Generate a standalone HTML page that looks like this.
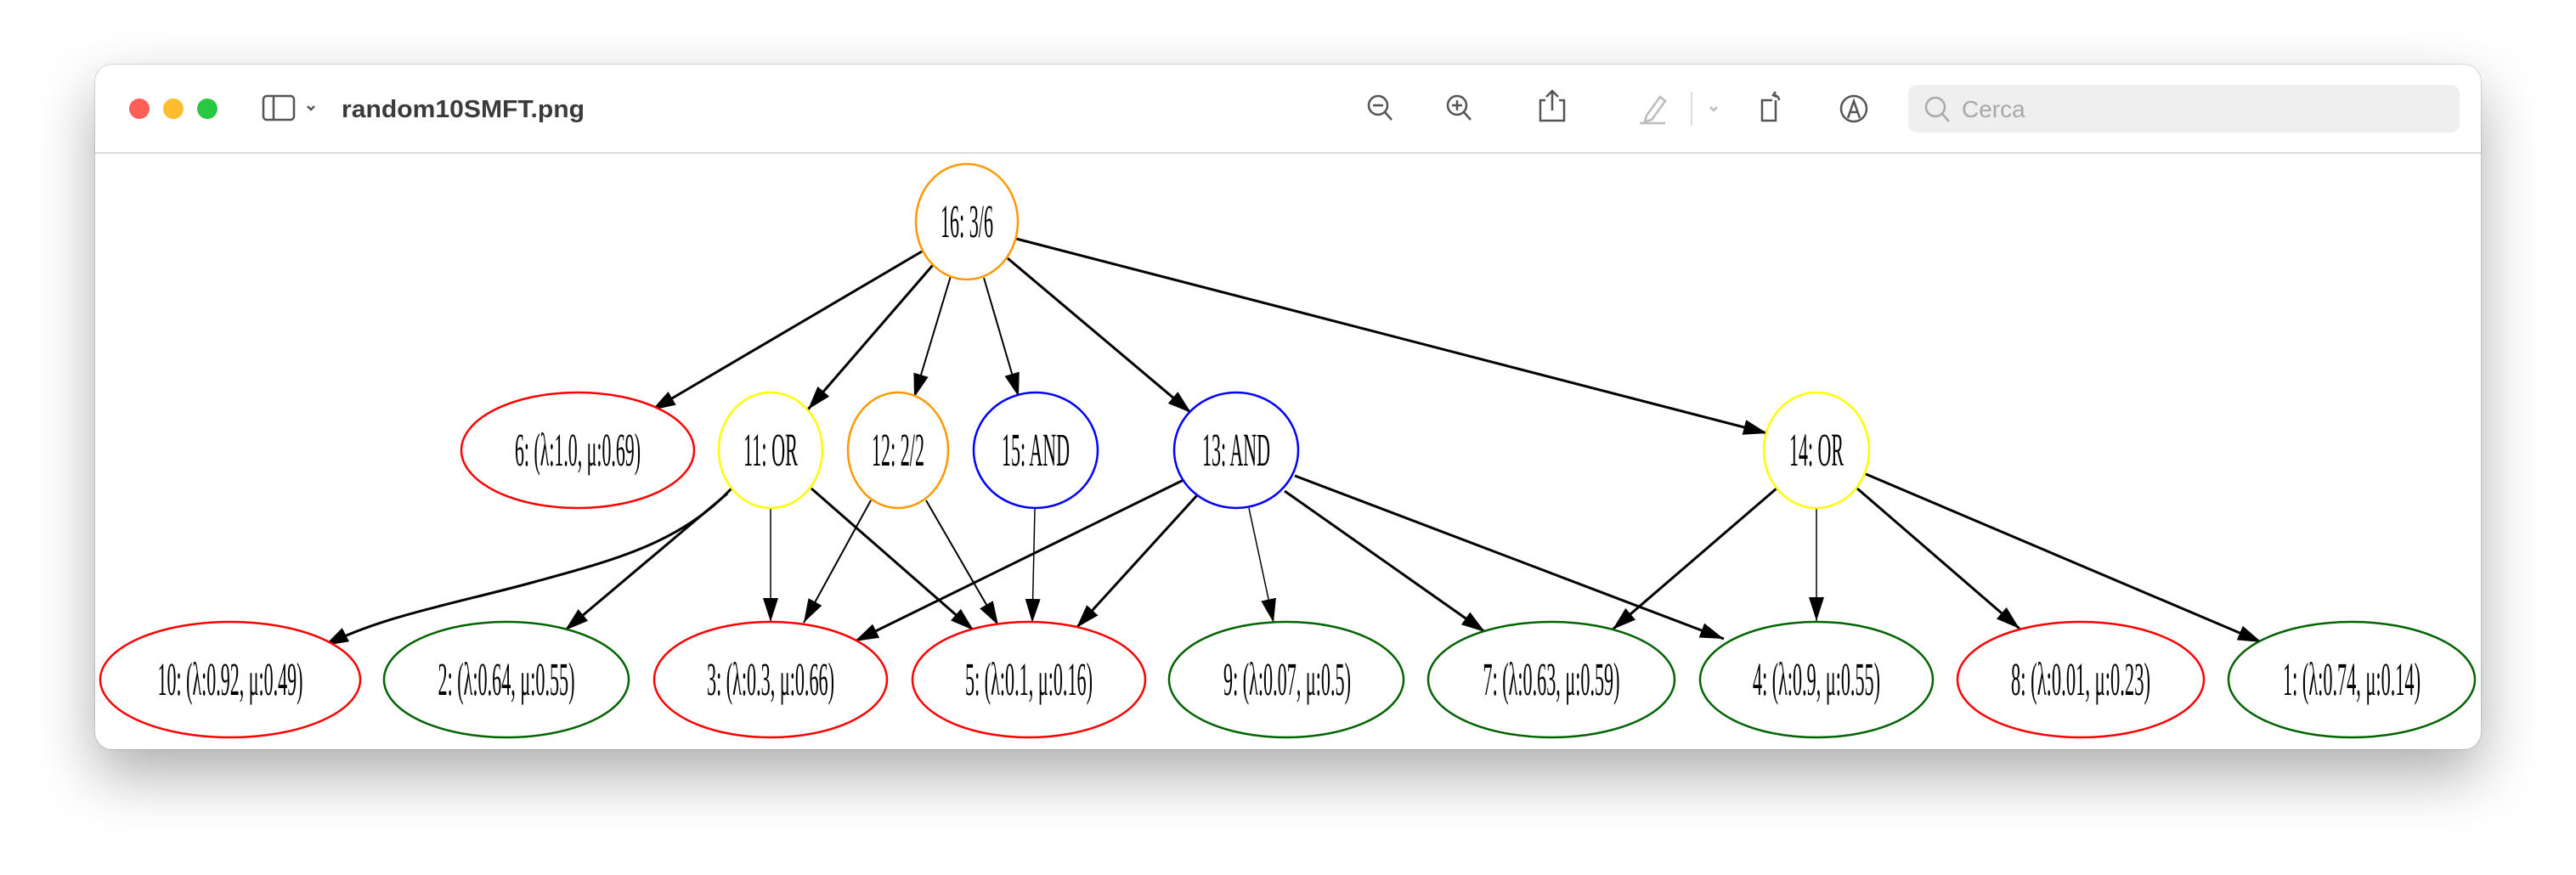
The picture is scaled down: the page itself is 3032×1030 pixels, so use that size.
<!DOCTYPE html>
<html><head><meta charset="utf-8"><style>
html,body{margin:0;padding:0;background:#fff;width:3032px;height:1030px;overflow:hidden}
.win{position:absolute;left:112px;top:76px;width:2808px;height:806px;border-radius:20px;background:#fff;box-shadow:0 30px 70px rgba(0,0,0,0.32),0 0 0 1px rgba(0,0,0,0.12)}
svg{position:absolute;left:0;top:0}
</style></head><body>
<div class="win"></div>
<svg width="3032" height="1030" viewBox="0 0 3032 1030" xmlns="http://www.w3.org/2000/svg">
<defs>
<marker id="a" markerUnits="userSpaceOnUse" markerWidth="34" markerHeight="22" refX="28" refY="9" orient="auto"><path d="M0,0 L28,9 L0,18 z" fill="#000"/></marker>
</defs>
<line x1="112" y1="180" x2="2920" y2="180" stroke="#dcdcdc" stroke-width="2"/>
<circle cx="164" cy="128" r="12" fill="#ff5f57"/>
<circle cx="204" cy="128" r="12" fill="#febc2e"/>
<circle cx="244" cy="128" r="12" fill="#28c840"/>
<g fill="none" stroke="#555" stroke-width="2.5">
<rect x="310" y="113" width="36" height="28" rx="4"/><line x1="322" y1="113" x2="322" y2="141"/>
<path d="M362,125 l4,4 l4,-4"/>
<circle cx="1622" cy="124" r="11"/><line x1="1630" y1="132" x2="1638" y2="141"/><line x1="1616" y1="124" x2="1628" y2="124"/>
<circle cx="1715" cy="124" r="11"/><line x1="1723" y1="132" x2="1731" y2="141"/><line x1="1709" y1="124" x2="1721" y2="124"/><line x1="1715" y1="118" x2="1715" y2="130"/>
<path d="M1819,118 h-6 v24 h28 v-24 h-6 M1827,108 v22 M1820,114 l7,-7 l7,7"/>
<path d="M2086,118 h-12 v24 h16 v-24" /><path d="M2088,112 a6,6 0 0 1 6,6 M2090,108 l-3,4 l4,2"/>
<circle cx="2182" cy="128" r="15"/><path d="M2175,139 l7,-20 l7,20 M2178,132 h8"/>
</g>
<g fill="none" stroke="#bbb" stroke-width="2.5">
<path d="M1938,136 l16,-22 l6,5 l-16,22 l-8,2 z"/><line x1="1930" y1="145" x2="1960" y2="145"/>
<path d="M2013,126 l4,4 l4,-4"/>
</g>
<line x1="1991" y1="108" x2="1991" y2="148" stroke="#ddd" stroke-width="2"/>
<rect x="2246" y="100" width="649" height="56" rx="10" fill="#efefef"/>
<circle cx="2278" cy="126" r="11" fill="none" stroke="#aaa" stroke-width="2.5"/><line x1="2286" y1="134" x2="2294" y2="143" stroke="#aaa" stroke-width="2.5"/>
<text x="2309" y="138" font-family="Liberation Sans, sans-serif" font-size="28" fill="#a8a8a8">Cerca</text>
<text x="402" y="138" font-family="Liberation Sans, sans-serif" font-size="29" font-weight="bold" fill="#3a3a3a" textLength="286" lengthAdjust="spacingAndGlyphs">random10SMFT.png</text>

<g stroke="#000" stroke-width="3" fill="none" marker-end="url(#a)">
<line x1="1085" y1="296" x2="767" y2="483"/>
<line x1="1098" y1="312" x2="951" y2="482"/>
<line x1="1119" y1="325" x2="1076" y2="468" stroke-width="2"/>
<line x1="1158" y1="327" x2="1199" y2="467" stroke-width="2"/>
<line x1="1186" y1="304" x2="1402" y2="486"/>
<line x1="1196" y1="281" x2="2080" y2="510"/>
<path d="M861,575 C800,640 720,660 629,685 S450,725 382,760"/>
<line x1="856" y1="581" x2="665" y2="742"/>
<line x1="907" y1="598" x2="907" y2="732" stroke-width="1.5"/>
<line x1="955" y1="575" x2="1146" y2="742"/>
<line x1="1025" y1="589" x2="946" y2="733" stroke-width="2"/>
<line x1="1090" y1="589" x2="1175" y2="736" stroke-width="2"/>
<line x1="1218" y1="599" x2="1215" y2="733" stroke-width="1.5"/>
<line x1="1393" y1="565" x2="1006" y2="755"/>
<line x1="1409" y1="583" x2="1267" y2="739"/>
<line x1="1470" y1="598" x2="1499" y2="733" stroke-width="1.5"/>
<line x1="1512" y1="578" x2="1748" y2="744"/>
<line x1="1524" y1="560" x2="2029" y2="752"/>
<line x1="2091" y1="575" x2="1898" y2="741"/>
<line x1="2138" y1="599" x2="2138" y2="731" stroke-width="1.5"/>
<line x1="2186" y1="575" x2="2377" y2="740"/>
<line x1="2196" y1="558" x2="2662" y2="756"/>
</g>

<g fill="#fff" stroke-width="2.5">
<ellipse cx="1138" cy="261" rx="60" ry="68" stroke="#ff9900"/>
<ellipse cx="680" cy="530" rx="137" ry="68" stroke="#ff0000"/>
<ellipse cx="907" cy="530" rx="61" ry="68" stroke="#ffff00"/>
<ellipse cx="1057" cy="530" rx="59" ry="68" stroke="#ff9900"/>
<ellipse cx="1219" cy="530" rx="73" ry="68" stroke="#0000ff"/>
<ellipse cx="1455" cy="530" rx="73" ry="68" stroke="#0000ff"/>
<ellipse cx="2138" cy="530" rx="62" ry="68" stroke="#ffff00"/>
<ellipse cx="271" cy="800" rx="153" ry="68" stroke="#ff0000"/>
<ellipse cx="596" cy="800" rx="144" ry="68" stroke="#006400"/>
<ellipse cx="907" cy="800" rx="137" ry="68" stroke="#ff0000"/>
<ellipse cx="1211" cy="800" rx="137" ry="68" stroke="#ff0000"/>
<ellipse cx="1514" cy="800" rx="138" ry="68" stroke="#006400"/>
<ellipse cx="1826" cy="800" rx="145" ry="68" stroke="#006400"/>
<ellipse cx="2138" cy="800" rx="137" ry="68" stroke="#006400"/>
<ellipse cx="2449" cy="800" rx="145" ry="68" stroke="#ff0000"/>
<ellipse cx="2768" cy="800" rx="145" ry="68" stroke="#006400"/>
</g>
<g font-family="Liberation Serif, DejaVu Serif, serif" font-size="55" fill="#000" text-anchor="middle">
<text x="1138" y="279" textLength="62" lengthAdjust="spacingAndGlyphs">16: 3/6</text>
<text x="680" y="548" textLength="148" lengthAdjust="spacingAndGlyphs">6: (λ:1.0, μ:0.69)</text>
<text x="907" y="548" textLength="64" lengthAdjust="spacingAndGlyphs">11: OR</text>
<text x="1057" y="548" textLength="62" lengthAdjust="spacingAndGlyphs">12: 2/2</text>
<text x="1219" y="548" textLength="80" lengthAdjust="spacingAndGlyphs">15: AND</text>
<text x="1455" y="548" textLength="80" lengthAdjust="spacingAndGlyphs">13: AND</text>
<text x="2138" y="548" textLength="64" lengthAdjust="spacingAndGlyphs">14: OR</text>
<text x="271" y="818" textLength="171" lengthAdjust="spacingAndGlyphs">10: (λ:0.92, μ:0.49)</text>
<text x="596" y="818" textLength="161" lengthAdjust="spacingAndGlyphs">2: (λ:0.64, μ:0.55)</text>
<text x="907" y="818" textLength="150" lengthAdjust="spacingAndGlyphs">3: (λ:0.3, μ:0.66)</text>
<text x="1211" y="818" textLength="150" lengthAdjust="spacingAndGlyphs">5: (λ:0.1, μ:0.16)</text>
<text x="1515" y="818" textLength="150" lengthAdjust="spacingAndGlyphs">9: (λ:0.07, μ:0.5)</text>
<text x="1826" y="818" textLength="161" lengthAdjust="spacingAndGlyphs">7: (λ:0.63, μ:0.59)</text>
<text x="2138" y="818" textLength="150" lengthAdjust="spacingAndGlyphs">4: (λ:0.9, μ:0.55)</text>
<text x="2449" y="818" textLength="164" lengthAdjust="spacingAndGlyphs">8: (λ:0.01, μ:0.23)</text>
<text x="2768" y="818" textLength="162" lengthAdjust="spacingAndGlyphs">1: (λ:0.74, μ:0.14)</text>
</g>
</svg>
</body></html>
